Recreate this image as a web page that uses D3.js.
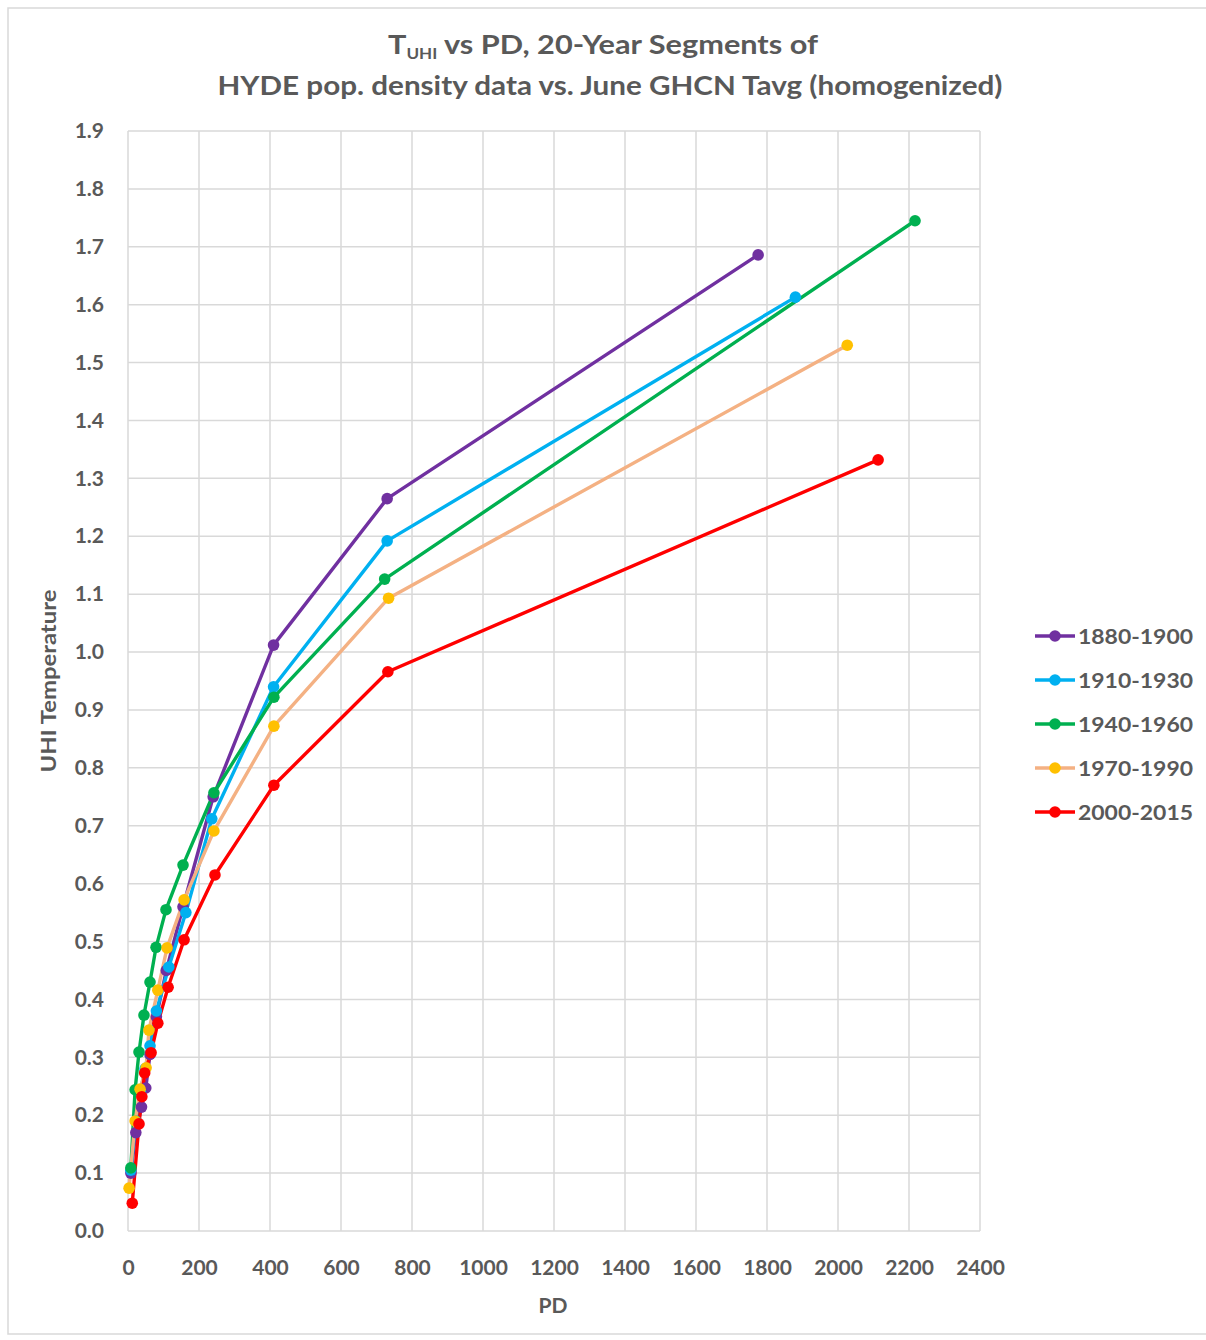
<!DOCTYPE html>
<html><head><meta charset="utf-8">
<script src="https://cdn.jsdelivr.net/npm/d3@7"></script>
<style>
html,body{margin:0;padding:0;background:#fff;}
svg{display:block;}
text{font-family:Lato,"Open Sans",sans-serif;fill:#595959;}
</style></head>
<body>
<svg id="chart" width="1206" height="1340"></svg>
<script>
// ---- data ----
const seriesNames = ["1880-1900","1910-1930","1940-1960","1970-1990","2000-2015"];
const pd1880 = [8, 22, 38, 50, 62, 80, 108, 155, 240, 410, 730, 1775];
const t1880  = [0.10, 0.17, 0.214, 0.247, 0.305, 0.37, 0.45, 0.56, 0.75, 1.012, 1.265, 1.686];
const pd1910 = [8, 22, 35, 48, 62, 80, 115, 163, 236, 410, 730, 1880];
const t1910  = [0.105, 0.19, 0.24, 0.28, 0.32, 0.38, 0.456, 0.55, 0.712, 0.940, 1.192, 1.613];
const pd1940 = [8, 20, 31, 45, 62, 79, 107, 155, 242, 411, 723, 2217];
const t1940  = [0.109, 0.244, 0.309, 0.373, 0.43, 0.49, 0.555, 0.632, 0.757, 0.922, 1.126, 1.745];
const pd1970 = [3, 20, 34, 51, 59, 84, 110, 158, 242, 411, 734, 2026];
const t1970  = [0.074, 0.19, 0.245, 0.282, 0.347, 0.416, 0.489, 0.572, 0.691, 0.872, 1.093, 1.530];
const pd2000 = [12, 31, 39, 47, 65, 84, 113, 158, 245, 411, 732, 2113];
const t2000  = [0.048, 0.185, 0.232, 0.273, 0.308, 0.359, 0.421, 0.503, 0.615, 0.770, 0.966, 1.332];
const xTicks = [0,200,400,600,800,1000,1200,1400,1600,1800,2000,2200,2400];
const yTicks = [0,0.1,0.2,0.3,0.4,0.5,0.6,0.7,0.8,0.9,1.0,1.1,1.2,1.3,1.4,1.5,1.6,1.7,1.8,1.9];

const lineColors   = ["#7030A0","#00B0F0","#00B050","#F4B183","#FF0000"];
const markerColors = ["#7030A0","#00B0F0","#00B050","#FFC000","#FF0000"];
const pdArr = [pd1880,pd1910,pd1940,pd1970,pd2000];
const tArr  = [t1880,t1910,t1940,t1970,t2000];
const series = seriesNames.map((n,i)=>({name:n, line:lineColors[i], marker:markerColors[i],
  pts: pdArr[i].map((x,j)=>({x, y:tArr[i][j]}))}));

const svg = d3.select("#chart");
// outer border
svg.append("rect").attr("x",8).attr("y",8).attr("width",1210).attr("height",1326)
  .attr("fill","none").attr("stroke","#D9D9D9").attr("stroke-width",1.5);

const L=128, R=980, T=131, B=1231;
const x = d3.scaleLinear().domain([0,2400]).range([L,R]);
const y = d3.scaleLinear().domain([0,1.9]).range([B,T]);

// gridlines
const g = svg.append("g");
g.selectAll("line.v").data(xTicks).join("line")
  .attr("x1",d=>x(d)).attr("x2",d=>x(d)).attr("y1",T).attr("y2",B)
  .attr("stroke","#D9D9D9").attr("stroke-width",1.5);
g.selectAll("line.h").data(yTicks).join("line")
  .attr("x1",L).attr("x2",R).attr("y1",d=>y(d)).attr("y2",d=>y(d))
  .attr("stroke","#D9D9D9").attr("stroke-width",1.5);

// axes labels via d3 axes
const xAxis = d3.axisBottom(x).tickValues(xTicks).tickSize(0).tickPadding(29).tickFormat(d3.format("d"));
const yAxis = d3.axisLeft(y).tickValues(yTicks).tickSize(0).tickPadding(24).tickFormat(d3.format(".1f"));
const gx = svg.append("g").attr("transform",`translate(0,${B})`).call(xAxis);
const gy = svg.append("g").attr("transform",`translate(${L},0)`).call(yAxis);
[gx,gy].forEach(a=>{ a.select(".domain").remove();
  a.selectAll("text").attr("fill","#595959").style("font-size","21px").style("font-weight","bold")
   .style("font-family","Lato, 'Open Sans', sans-serif"); });
gx.selectAll("text").attr("dy","0.71em");

// axis titles
svg.append("text").attr("x",553).attr("y",1313).attr("text-anchor","middle")
  .style("font-size","21px").style("font-weight","bold").text("PD");
svg.append("text").attr("transform",`translate(56,${(T+B)/2}) rotate(-90)`).attr("text-anchor","middle")
  .style("font-size","21px").style("font-weight","bold")
  .attr("textLength",183).attr("lengthAdjust","spacingAndGlyphs").text("UHI Temperature");

// title
const t1 = svg.append("text").attr("x",603).attr("y",54).attr("text-anchor","middle")
  .style("font-size","27px").style("font-weight","bold")
  .attr("textLength",430).attr("lengthAdjust","spacingAndGlyphs");
t1.append("tspan").text("T");
t1.append("tspan").attr("dy",5).style("font-size","15px").text("UHI");
t1.append("tspan").attr("dy",-5).text(" vs PD, 20-Year Segments of");
svg.append("text").attr("x",610).attr("y",95).attr("text-anchor","middle")
  .style("font-size","27px").style("font-weight","bold")
  .attr("textLength",785).attr("lengthAdjust","spacingAndGlyphs")
  .text("HYDE pop. density data vs. June GHCN Tavg (homogenized)");

// lines
const lineGen = d3.line().x(d=>x(d.x)).y(d=>y(d.y));
const sg = svg.append("g");
series.forEach(s=>{
  sg.append("path").datum(s.pts).attr("d",lineGen).attr("fill","none")
    .attr("stroke",s.line).attr("stroke-width",3.4).attr("stroke-linejoin","round");
});
series.forEach(s=>{
  sg.selectAll(null).data(s.pts).join("circle").attr("cx",d=>x(d.x)).attr("cy",d=>y(d.y))
    .attr("r",5.8).attr("fill",s.marker);
});

// legend
const lg = svg.append("g");
series.forEach((s,i)=>{
  const yy = 636 + i*44;
  lg.append("line").attr("x1",1035).attr("x2",1075).attr("y1",yy).attr("y2",yy)
    .attr("stroke",s.line).attr("stroke-width",3.4);
  lg.append("circle").attr("cx",1055).attr("cy",yy).attr("r",5.8).attr("fill",s.marker);
  lg.append("text").attr("x",1078).attr("y",yy).attr("dy","0.36em")
    .style("font-size","21px").style("font-weight","bold")
    .attr("textLength",115).attr("lengthAdjust","spacingAndGlyphs").text(s.name);
});
</script>
</body></html>
